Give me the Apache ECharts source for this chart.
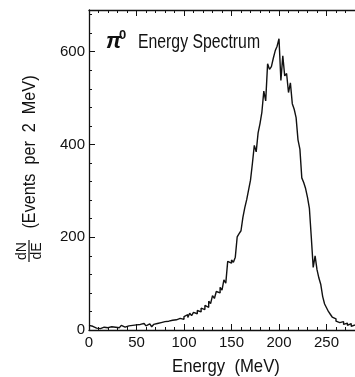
<!DOCTYPE html>
<html>
<head>
<meta charset="utf-8">
<script src="https://cdn.jsdelivr.net/npm/echarts@6/dist/echarts.min.js"></script>
<style>
  html, body { margin: 0; padding: 0; background: #fff; }
  #chart { width: 355px; height: 377px; }
</style>
</head>
<body>
<div id="chart"></div>
<script>
// pi0 energy spectrum, events per 2 MeV bin (bin lower edge = index * 2 MeV)
const binWidth = 2;
const countsLow = [ // 0 - 98 MeV
  10, 8, 6, 4, 5, 3, 4, 6, 3, 5,
  4, 7, 5, 6, 9, 5, 7, 10, 6, 8,
  9, 7, 10, 8, 11, 9, 12, 10, 14, 11,
  9, 13, 10, 7, 12, 14, 11, 16, 13, 18,
  15, 19, 16, 21, 17, 22, 19, 25, 28, 23
];
const countsMid = [ // 100 - 198 MeV
  29, 33, 27, 36, 31, 38, 35, 42, 39, 47,
  44, 53, 49, 62, 57, 74, 68, 83, 80, 92,
  86, 108, 101, 148, 144, 151, 146, 157, 201, 208,
  214, 243, 264, 281, 302, 323, 359, 398, 384, 425,
  445, 470, 515, 494, 574, 562, 568, 586, 602, 612
];
const countsHigh = [ // 200 - 278 MeV
  628, 538, 591, 548, 553, 512, 533, 488, 476, 458,
  410, 390, 328, 318, 305, 286, 262, 200, 135, 160,
  130, 112, 98, 72, 56, 48, 40, 34, 28, 24,
  19, 16, 13, 18, 12, 15, 10, 14, 8, 11
];
const yTicks = [0, 200, 400, 600];
const xTicks = [0, 50, 100, 150, 200, 250];

const counts = countsLow.concat(countsMid, countsHigh);
const histPoints = counts.map((c, i) => [i * binWidth, c]);
histPoints.push([counts.length * binWidth, counts[counts.length - 1]]);

const ink = '#111';
const chart = echarts.init(document.getElementById('chart'), null, { renderer: 'canvas' });

const baseX = {
  type: 'value', min: 0, max: 300, interval: 50,
  axisLine: { show: true, lineStyle: { color: ink, width: 1.3 } },
  axisTick: { show: true, inside: true, length: 6, lineStyle: { color: ink } },
  minorTick: { show: true, splitNumber: 5, length: 3, lineStyle: { color: ink } },
  splitLine: { show: false },
  minorSplitLine: { show: false }
};
const baseY = {
  type: 'value', min: 0, max: 690, interval: 200,
  axisLine: { show: true, lineStyle: { color: ink, width: 1.3 } },
  axisTick: { show: true, inside: true, length: 6, lineStyle: { color: ink } },
  minorTick: { show: true, splitNumber: 5, length: 3, lineStyle: { color: ink } },
  splitLine: { show: false }
};

chart.setOption({
  animation: false,
  backgroundColor: '#fff',
  grid: { left: 89, right: -19, top: 10, bottom: 47, containLabel: false, outerBoundsMode: 'none' },
  xAxis: [
    Object.assign({}, baseX, {
      position: 'bottom',
      axisLabel: {
        color: ink, fontSize: 15, fontFamily: 'Liberation Sans', margin: 5,
        formatter: v => xTicks.includes(v) ? String(v) : ''
      }
    }),
    Object.assign({}, baseX, { position: 'top', axisLabel: { show: false } })
  ],
  yAxis: [
    Object.assign({}, baseY, {
      position: 'left',
      axisLabel: {
        color: ink, fontSize: 15, fontFamily: 'Liberation Sans', margin: 4,
        formatter: v => yTicks.includes(v) ? String(v) : ''
      }
    })
  ],
  series: [{
    type: 'line',
    step: 'end',
    data: histPoints,
    symbol: 'none',
    lineStyle: { color: ink, width: 1.4 },
    clip: true
  }],
  graphic: [
    { type: 'text', x: 106, y: 42,
      style: { text: 'π', font: 'italic bold 22px "Liberation Sans"', fill: ink, textVerticalAlign: 'middle' } },
    { type: 'text', x: 119, y: 35,
      style: { text: '0', font: 'bold 13px "Liberation Sans"', fill: ink, textVerticalAlign: 'middle' } },
    { type: 'text', x: 138, y: 42, scaleX: 0.79, originX: 0,
      style: { text: 'Energy Spectrum', font: '20px "Liberation Sans"', fill: ink, textVerticalAlign: 'middle' } },
    { type: 'text', x: 226, y: 367, scaleX: 0.88, originX: 0,
      style: { text: 'Energy  (MeV)', font: '19px "Liberation Sans"', fill: ink, textAlign: 'center', textVerticalAlign: 'middle' } },
    { type: 'text', x: 30, y: 152, rotation: Math.PI / 2, scaleX: 0.9, originX: 0,
      style: { text: '(Events  per  2  MeV)', font: '18px "Liberation Sans"', fill: ink, textAlign: 'center', textVerticalAlign: 'middle' } },
    { type: 'text', x: 22, y: 251, rotation: Math.PI / 2,
      style: { text: 'dN', font: '14px "Liberation Sans"', fill: ink, textAlign: 'center', textVerticalAlign: 'middle' } },
    { type: 'line', shape: { x1: 29, y1: 240, x2: 29, y2: 262 },
      style: { stroke: ink, lineWidth: 1.2 } },
    { type: 'text', x: 37, y: 251, rotation: Math.PI / 2,
      style: { text: 'dE', font: '14px "Liberation Sans"', fill: ink, textAlign: 'center', textVerticalAlign: 'middle' } }
  ]
});
</script>
</body>
</html>
